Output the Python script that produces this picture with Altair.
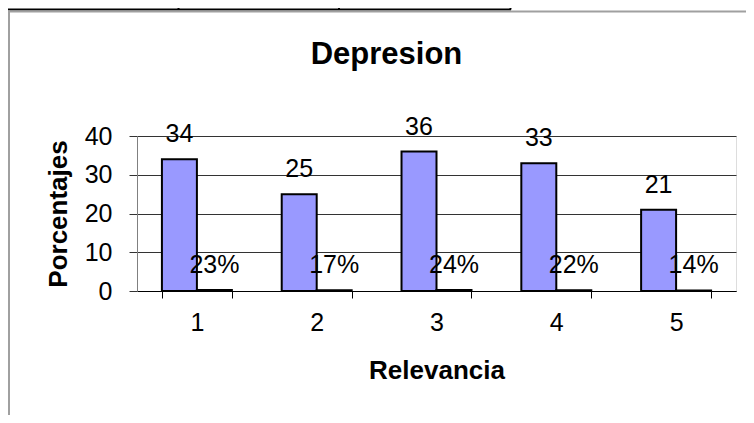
import altair as alt
import pandas as pd

categories = ["1", "2", "3", "4", "5"]
frecuencias = [34, 25, 36, 33, 21]
porcentajes = [0.23, 0.17, 0.24, 0.22, 0.14]
series_names = ["Frecuencia", "Porcentaje"]

rows = []
for c, f, p in zip(categories, frecuencias, porcentajes):
    rows.append({"cat": c, "serie": series_names[0], "valor": f, "etiqueta": f"{f}"})
    rows.append({"cat": c, "serie": series_names[1], "valor": p, "etiqueta": f"{round(p * 100)}%"})
df = pd.DataFrame(rows)

FONT = "Liberation Sans"

x_enc = alt.X(
    "cat:N",
    sort=categories,
    scale=alt.Scale(paddingInner=0.416, paddingOuter=0.208),
    axis=alt.Axis(
        title="Relevancia",
        labelAngle=0,
        tickBand="extent",
        tickSize=7,
        tickColor="#000000",
        domainColor="#000000",
        labelPadding=12,
        labelFontSize=25,
        labelFont=FONT,
        labelColor="#000000",
        titleFontSize=26,
        titleFont=FONT,
        titleFontWeight="bold",
        titleColor="#000000",
        titlePadding=22,
        grid=False,
    ),
)
xo_enc = alt.XOffset("serie:N", sort=series_names, scale=alt.Scale(paddingInner=0, paddingOuter=0))
y_enc = alt.Y(
    "valor:Q",
    scale=alt.Scale(domain=[0, 40], nice=False),
    axis=alt.Axis(
        title="Porcentajes",
        values=[0, 10, 20, 30, 40],
        labelOverlap=False,
        tickSize=8,
        tickColor="#333333",
        domainColor="#808080",
        labelPadding=17,
        labelFontSize=25,
        labelFont=FONT,
        labelColor="#000000",
        titleFontSize=26,
        titleFont=FONT,
        titleFontWeight="bold",
        titleColor="#000000",
        titlePadding=13,
        grid=True,
        gridColor="#333333",
        gridWidth=1,
    ),
)

bars = alt.Chart(df).mark_bar(stroke="#000000", strokeWidth=2).encode(
    x=x_enc,
    xOffset=xo_enc,
    y=y_enc,
    color=alt.Color("serie:N", scale=alt.Scale(domain=series_names, range=["#9999FF", "#993366"]), legend=None),
)

labels = alt.Chart(df).mark_text(baseline="alphabetic", dy=-17, fontSize=25, font=FONT, color="#000000").encode(
    x=x_enc,
    xOffset=xo_enc,
    y=y_enc,
    text="etiqueta:N",
)

one = pd.DataFrame({"k": [0]})
deco_h = alt.Chart(one).mark_rule(color="#000000", strokeWidth=2).encode(
    x=alt.value(-129), x2=alt.value(374), y=alt.value(-126.5)
)
deco_v1 = alt.Chart(one).mark_rule(color="#000000", strokeWidth=2).encode(
    x=alt.value(41.5), y=alt.value(-128), y2=alt.value(-126.5)
)
deco_v2 = alt.Chart(one).mark_rule(color="#000000", strokeWidth=2).encode(
    x=alt.value(202), y=alt.value(-128), y2=alt.value(-126.5)
)
deco_v3 = alt.Chart(one).mark_rule(color="#000000", strokeWidth=2).encode(
    x=alt.value(373.5), y=alt.value(-128), y2=alt.value(-126.5)
)
frame_top = alt.Chart(one).mark_rule(color="#A0A0A0", strokeWidth=2).encode(
    x=alt.value(-129), x2=alt.value(609), y=alt.value(-124.5)
)
frame_left = alt.Chart(one).mark_rule(color="#A0A0A0", strokeWidth=2).encode(
    x=alt.value(-128), y=alt.value(-125.5), y2=alt.value(300)
)

chart = alt.layer(
    bars, labels, deco_h, deco_v1, deco_v2, deco_v3, frame_top, frame_left
).properties(
    width=599,
    height=155,
    padding={"left": 129, "top": 128, "right": 10, "bottom": 124},
    autosize=alt.AutoSizeParams(type="none"),
    title=alt.TitleParams(
        "Depresion", fontSize=31, font=FONT, fontWeight="bold", color="#000000",
        baseline="alphabetic", dx=-50, offset=0, dy=88
    ),
).configure_view(
    fill="#C0C0C0", stroke="#808080", strokeWidth=1
).configure(background="#FFFFFF")

chart.save("out.html", embed_options={"renderer": "svg", "actions": False})
